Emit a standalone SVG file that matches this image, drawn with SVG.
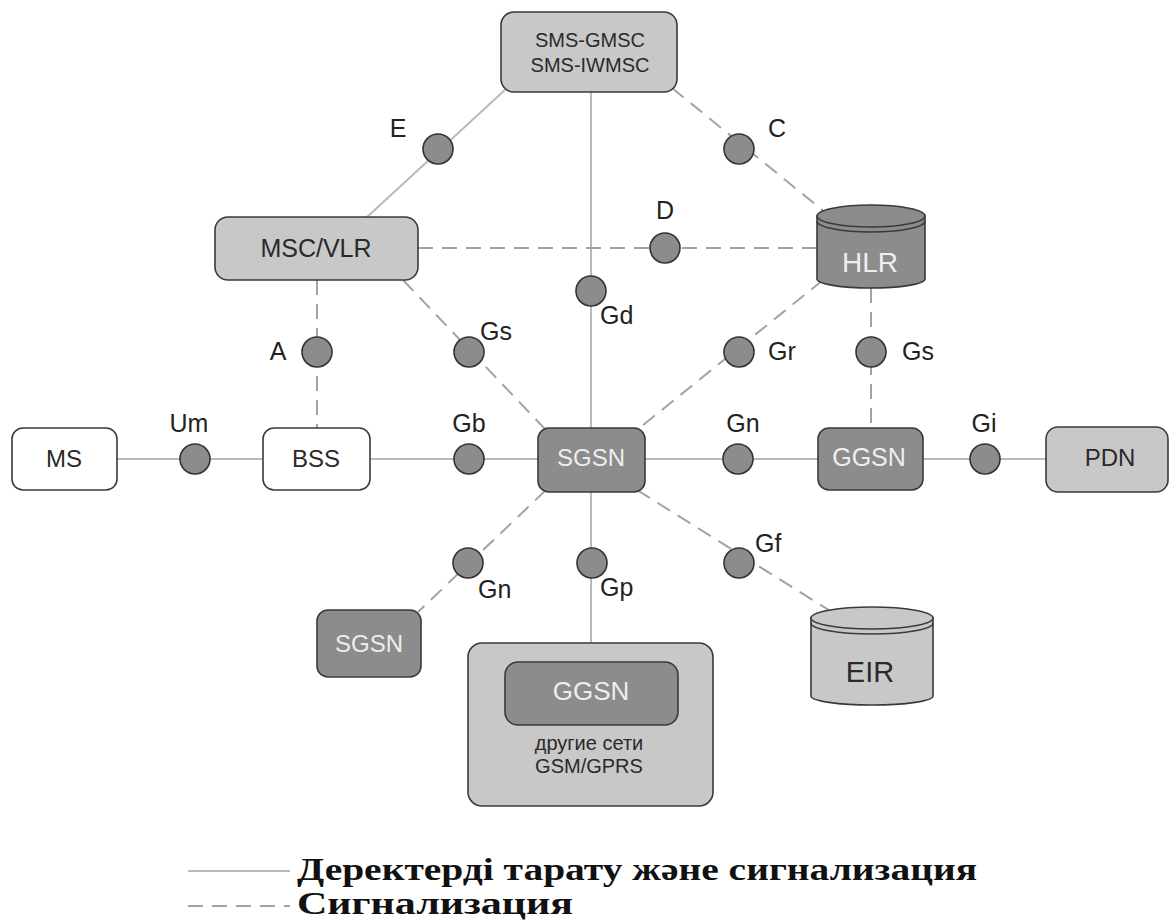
<svg xmlns="http://www.w3.org/2000/svg" width="1172" height="921" viewBox="0 0 1172 921">
<style>
.solid{stroke:#b9b9b9;stroke-width:2;fill:none}
.dash{stroke:#a3a3a3;stroke-width:2;fill:none;stroke-dasharray:15 9}
.light{fill:#c8c8c8;stroke:#3a3a3a;stroke-width:1.6}
.dark{fill:#8c8c8c;stroke:#3a3a3a;stroke-width:1.6}
.white{fill:#ffffff;stroke:#3a3a3a;stroke-width:1.6}
.pt{fill:#8c8c8c;stroke:#333333;stroke-width:1.6}
.t{font-family:"Liberation Sans",Arial,sans-serif;fill:#2a2a2a;text-anchor:middle}
.tw{font-family:"Liberation Sans",Arial,sans-serif;fill:#eeeeee;text-anchor:middle}
.lbl{font-family:"Liberation Sans",Arial,sans-serif;fill:#222222;font-size:25px}
.leg{font-family:"Liberation Serif","Times New Roman",serif;font-weight:bold;fill:#111111;font-size:31px}
</style>
<g id="connectors">
<line class="solid" x1="507" y1="88" x2="366" y2="218"/>
<line class="dash" x1="672" y1="88" x2="826" y2="213"/>
<line class="solid" x1="591" y1="92" x2="591" y2="428"/>
<line class="dash" x1="418" y1="248" x2="817" y2="248"/>
<line class="dash" x1="403" y1="280" x2="546" y2="430"/>
<line class="dash" x1="823" y1="280" x2="637" y2="430"/>
<line class="dash" x1="871" y1="288" x2="871" y2="428"/>
<line class="dash" x1="317" y1="280" x2="317" y2="428"/>
<line class="solid" x1="117" y1="459" x2="263" y2="459"/>
<line class="solid" x1="370" y1="459" x2="538" y2="459"/>
<line class="solid" x1="645" y1="459" x2="818" y2="459"/>
<line class="solid" x1="923" y1="459" x2="1046" y2="459"/>
<line class="dash" x1="546" y1="490" x2="418" y2="612"/>
<line class="solid" x1="591" y1="492" x2="591" y2="643"/>
<line class="dash" x1="637" y1="490" x2="832" y2="612"/>
</g>
<g id="points">
<circle class="pt" cx="438" cy="149" r="15"/>
<circle class="pt" cx="739" cy="149" r="15"/>
<circle class="pt" cx="665" cy="248" r="15"/>
<circle class="pt" cx="591" cy="291" r="15"/>
<circle class="pt" cx="317" cy="352" r="15"/>
<circle class="pt" cx="469" cy="352" r="15"/>
<circle class="pt" cx="739" cy="352" r="15"/>
<circle class="pt" cx="871" cy="352" r="15"/>
<circle class="pt" cx="195" cy="459" r="15"/>
<circle class="pt" cx="469" cy="459" r="15"/>
<circle class="pt" cx="738" cy="459" r="15"/>
<circle class="pt" cx="985" cy="459" r="15"/>
<circle class="pt" cx="468" cy="563" r="15"/>
<circle class="pt" cx="592" cy="563" r="15"/>
<circle class="pt" cx="739" cy="563" r="15"/>
</g>
<g id="labels">
<text class="lbl" x="398" y="137" text-anchor="middle">E</text>
<text class="lbl" x="777" y="137" text-anchor="middle">C</text>
<text class="lbl" x="665" y="219" text-anchor="middle">D</text>
<text class="lbl" x="600" y="324">Gd</text>
<text class="lbl" x="480" y="340">Gs</text>
<text class="lbl" x="278" y="360" text-anchor="middle">A</text>
<text class="lbl" x="768" y="360">Gr</text>
<text class="lbl" x="902" y="360">Gs</text>
<text class="lbl" x="189" y="432" text-anchor="middle">Um</text>
<text class="lbl" x="469" y="432" text-anchor="middle">Gb</text>
<text class="lbl" x="743" y="432" text-anchor="middle">Gn</text>
<text class="lbl" x="984" y="432" text-anchor="middle">Gi</text>
<text class="lbl" x="478" y="598">Gn</text>
<text class="lbl" x="600" y="596">Gp</text>
<text class="lbl" x="755" y="552">Gf</text>
</g>
<g id="sms">
<rect class="light" x="501" y="12" width="176" height="80" rx="13"/>
<text class="t" x="590" y="47" font-size="20">SMS-GMSC</text>
<text class="t" x="590" y="72" font-size="20">SMS-IWMSC</text>
</g>
<g id="mscvlr">
<rect class="light" x="215" y="217" width="203" height="63" rx="13"/>
<text class="t" x="316" y="257" font-size="25">MSC/VLR</text>
</g>
<g id="hlr">
<path class="dark" d="M817 216 L817 279 A54 9 0 0 0 925 279 L925 216 Z"/>
<ellipse class="dark" cx="871" cy="216" rx="54" ry="11"/>
<path d="M817 221 A54 11 0 0 0 925 221" fill="none" stroke="#3a3a3a" stroke-width="1.6"/>
<text class="tw" x="870" y="272" font-size="28">HLR</text>
</g>
<g id="ms">
<rect class="white" x="12" y="428" width="105" height="62" rx="11"/>
<text class="t" x="64" y="467" font-size="24">MS</text>
</g>
<g id="bss">
<rect class="white" x="263" y="428" width="107" height="62" rx="11"/>
<text class="t" x="316" y="467" font-size="24">BSS</text>
</g>
<g id="sgsn">
<rect class="dark" x="538" y="428" width="107" height="64" rx="11"/>
<text class="tw" x="591" y="466" font-size="24">SGSN</text>
</g>
<g id="ggsn">
<rect class="dark" x="818" y="428" width="105" height="62" rx="11"/>
<text class="tw" x="869" y="466" font-size="25">GGSN</text>
</g>
<g id="pdn">
<rect class="light" x="1046" y="427" width="122" height="65" rx="12"/>
<text class="t" x="1110" y="466" font-size="24">PDN</text>
</g>
<g id="sgsn2">
<rect class="dark" x="317" y="610" width="104" height="67" rx="11"/>
<text class="tw" x="369" y="652" font-size="24">SGSN</text>
</g>
<g id="other">
<rect class="light" x="468" y="643" width="245" height="163" rx="14"/>
<rect class="dark" x="505" y="662" width="173" height="63" rx="13"/>
<text class="tw" x="591" y="700" font-size="26">GGSN</text>
<text class="t" x="589" y="750" font-size="20">другие сети</text>
<text class="t" x="589" y="773" font-size="20">GSM/GPRS</text>
</g>
<g id="eir">
<path class="light" d="M811 618 L811 696 A61 9 0 0 0 933 696 L933 618 Z"/>
<ellipse class="light" cx="872" cy="618" rx="61" ry="11"/>
<path d="M811 623 A61 11 0 0 0 933 623" fill="none" stroke="#3a3a3a" stroke-width="1.6"/>
<text class="t" x="870" y="682" font-size="29">EIR</text>
</g>
<g id="legend">
<line class="solid" x1="188" y1="871" x2="290" y2="871" stroke-width="3"/>
<line class="dash" x1="188" y1="906" x2="290" y2="906" stroke-width="3" stroke-dasharray="24 15"/>
<text class="leg" x="297" y="880" textLength="680" lengthAdjust="spacingAndGlyphs">Деректерді тарату және сигнализация</text>
<text class="leg" x="297" y="914" textLength="276" lengthAdjust="spacingAndGlyphs">Сигнализация</text>
</g>
</svg>
